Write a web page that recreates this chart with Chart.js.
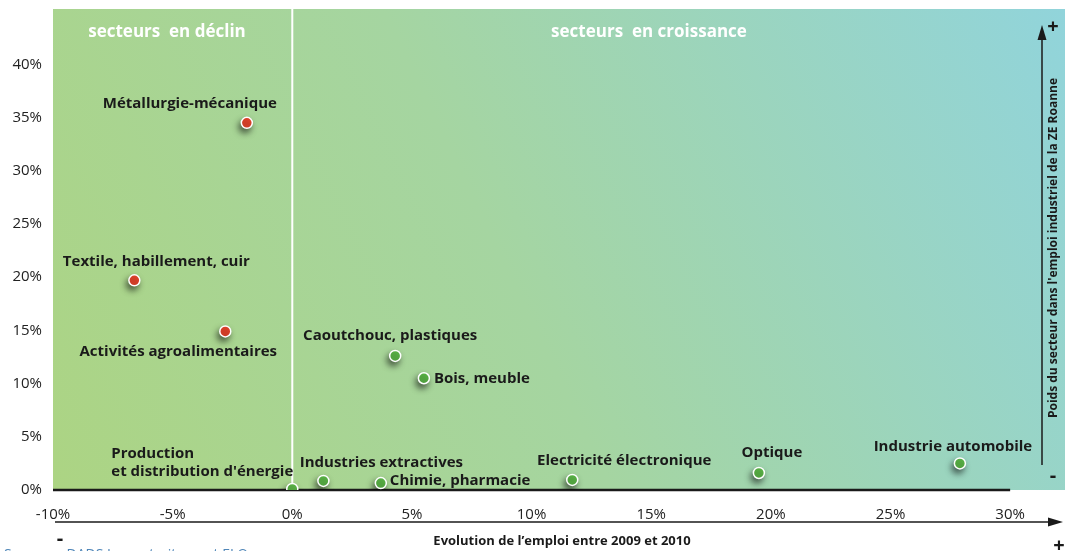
<!DOCTYPE html>
<html>
<head>
<meta charset="utf-8">
<script src="https://cdn.jsdelivr.net/npm/chart.js@4"></script>
<style>
  html, body { margin: 0; padding: 0; background: #fff; }
  #wrap { width: 1065px; height: 551px; }
</style>
</head>
<body>
<div id="wrap"><canvas id="chart" width="1065" height="551"></canvas></div>
<script>
// data
const sectors = [
  "Métallurgie-mécanique",
  "Textile, habillement, cuir",
  "Activités agroalimentaires",
  "Caoutchouc, plastiques",
  "Bois, meuble",
  "Production\net distribution d'énergie",
  "Industries extractives",
  "Chimie, pharmacie",
  "Electricité électronique",
  "Optique",
  "Industrie automobile"
];
const evolution = [-1.9, -6.6, -2.8, 4.3, 5.5, 0, 1.3, 3.7, 11.7, 19.5, 27.9]; // % 2009-2010
const weight = [34.5, 19.7, 14.9, 12.6, 10.5, 0.1, 0.85, 0.65, 0.95, 1.6, 2.5];  // % emploi industriel
const xTicks = [-10, -5, 0, 5, 10, 15, 20, 25, 30];
const yTicks = [0, 5, 10, 15, 20, 25, 30, 35, 40];

// where each label sits relative to its point
const labelPos = {
  "Métallurgie-mécanique": { dx: -57, dy: -19, align: "center" },
  "Textile, habillement, cuir": { dx: 22, dy: -19, align: "center" },
  "Activités agroalimentaires": { dx: -47, dy: 20, align: "center" },
  "Caoutchouc, plastiques": { dx: -5, dy: -20, align: "center" },
  "Bois, meuble": { dx: 10, dy: 0, align: "left" },
  "Production\net distribution d'énergie": { dx: -181, dy: -35, align: "left" },
  "Industries extractives": { dx: 58, dy: -18, align: "center" },
  "Chimie, pharmacie": { dx: 9, dy: -2, align: "left" },
  "Electricité électronique": { dx: 52, dy: -19, align: "center" },
  "Optique": { dx: 13, dy: -20, align: "center" },
  "Industrie automobile": { dx: -7, dy: -17, align: "center" }
};

const RED = "#e8452c";
const GREEN = "#5cb848";
const FONT = "'Open Sans', 'Noto Sans', sans-serif";

const points = sectors.map((s, i) => ({ x: evolution[i], y: weight[i] }));

function arrowHead(ctx, x, y, dir) {
  ctx.beginPath();
  if (dir === "up") {
    ctx.moveTo(x, y);
    ctx.lineTo(x - 4.5, y + 15);
    ctx.lineTo(x + 4.5, y + 15);
  } else {
    ctx.moveTo(x, y);
    ctx.lineTo(x - 15, y - 4.5);
    ctx.lineTo(x - 15, y + 4.5);
  }
  ctx.closePath();
  ctx.fill();
}

const decor = {
  id: "decor",
  beforeDatasetsDraw(chart) {
    const { ctx, chartArea: a, scales: { x, y } } = chart;
    ctx.save();
    // background gradient
    const g = ctx.createLinearGradient(a.left, a.bottom, chart.width, a.top);
    g.addColorStop(0, "#acd483");
    g.addColorStop(0.45, "#a5d5a1");
    g.addColorStop(1, "#91d4db");
    ctx.fillStyle = g;
    ctx.fillRect(a.left, a.top, chart.width - a.left, a.bottom - a.top);

    // white divider at 0%
    const x0 = x.getPixelForValue(0);
    ctx.strokeStyle = "#ffffff";
    ctx.lineWidth = 2;
    ctx.beginPath();
    ctx.moveTo(x0, a.top);
    ctx.lineTo(x0, a.bottom);
    ctx.stroke();

    // black base line
    ctx.strokeStyle = "#1a1a1a";
    ctx.lineWidth = 2.5;
    ctx.beginPath();
    ctx.moveTo(a.left, y.getPixelForValue(0));
    ctx.lineTo(x.getPixelForValue(30), y.getPixelForValue(0));
    ctx.stroke();

    // zone titles
    ctx.fillStyle = "#ffffff";
    ctx.font = "bold 17px " + FONT;
    ctx.textAlign = "center";
    ctx.textBaseline = "middle";
    ctx.fillText("secteurs  en déclin", 167, 32);
    ctx.fillText("secteurs  en croissance", 649, 32);

    // right vertical arrow
    ctx.strokeStyle = "#1a1a1a";
    ctx.fillStyle = "#1a1a1a";
    ctx.lineWidth = 1.5;
    ctx.beginPath();
    ctx.moveTo(1042, 465);
    ctx.lineTo(1042, 36);
    ctx.stroke();
    arrowHead(ctx, 1042, 25, "up");
    ctx.font = "bold 20px " + FONT;
    ctx.fillText("+", 1053, 27);
    ctx.fillText("-", 1053, 476);

    ctx.save();
    ctx.translate(1054, 248);
    ctx.rotate(-Math.PI / 2);
    ctx.font = "bold 12px " + FONT;
    ctx.fillText("Poids du secteur dans l'emploi industriel de la ZE Roanne", 0, 0);
    ctx.restore();

    // shadows for the points
    ctx.restore();
    ctx.save();
    ctx.shadowColor = "rgba(0,0,0,0.55)";
    ctx.shadowBlur = 6;
    ctx.shadowOffsetX = -2;
    ctx.shadowOffsetY = 4;
  },
  afterDatasetsDraw(chart) {
    const { ctx } = chart;
    ctx.restore();
    const meta = chart.getDatasetMeta(0);
    ctx.save();
    ctx.fillStyle = "#1a1a1a";
    ctx.font = "bold 15px " + FONT;
    ctx.textBaseline = "middle";
    meta.data.forEach((pt, i) => {
      const p = labelPos[sectors[i]];
      ctx.textAlign = p.align;
      sectors[i].split("\n").forEach((line, k) => {
        ctx.fillText(line, pt.x + p.dx, pt.y + p.dy + k * 18);
      });
    });
    ctx.restore();
  },
  afterDraw(chart) {
    const { ctx } = chart;
    ctx.save();
    ctx.strokeStyle = "#1a1a1a";
    ctx.fillStyle = "#1a1a1a";
    ctx.lineWidth = 1.5;
    ctx.beginPath();
    ctx.moveTo(55, 522);
    ctx.lineTo(1050, 522);
    ctx.stroke();
    arrowHead(ctx, 1063, 522, "right");
    ctx.textAlign = "center";
    ctx.textBaseline = "middle";
    ctx.font = "bold 20px " + FONT;
    ctx.fillText("+", 1059, 546);
    ctx.fillText("-", 60, 539);
    ctx.font = "bold 13px " + FONT;
    ctx.fillText("Evolution de l\u2019emploi entre 2009 et 2010", 562, 541);
    ctx.textAlign = "left";
    ctx.textBaseline = "alphabetic";
    ctx.fillStyle = "#4f86b8";
    ctx.font = "14px " + FONT;
    ctx.fillText("Sources : DADS Insee, traitement ELO", 4, 559);
    ctx.restore();
  }
};

function noPad(s) {
  s.paddingTop = 0;
  s.paddingBottom = 0;
  s.paddingLeft = 0;
  s.paddingRight = 0;
}

new Chart(document.getElementById("chart"), {
  type: "scatter",
  data: {
    datasets: [{
      label: "Secteurs",
      data: points,
      pointRadius: 5.5,
      pointHoverRadius: 5.5,
      pointBorderWidth: 1.5,
      pointBorderColor: "#ffffff",
      pointBackgroundColor: evolution.map(v => (v < 0 ? RED : GREEN))
    }]
  },
  options: {
    responsive: false,
    animation: false,
    events: [],
    layout: { padding: { top: 9, right: 0, left: 0, bottom: 0 } },
    plugins: {
      legend: { display: false },
      tooltip: { enabled: false }
    },
    scales: {
      x: {
        type: "linear",
        min: -10,
        max: 32.0,
        grid: { display: false, drawTicks: false },
        border: { display: false },
        afterBuildTicks: s => { s.ticks = xTicks.map(v => ({ value: v })); },
        afterFit: s => { s.height = 61; noPad(s); },
        ticks: {
          padding: 16,
          color: "#222",
          font: { family: FONT, size: 15 },
          callback: v => v + "%"
        }
      },
      y: {
        type: "linear",
        min: 0,
        max: 45.2,
        grid: { display: false, drawTicks: false },
        border: { display: false },
        afterBuildTicks: s => { s.ticks = yTicks.map(v => ({ value: v })); },
        afterFit: s => { s.width = 53; noPad(s); },
        ticks: {
          padding: 11,
          color: "#222",
          font: { family: FONT, size: 15 },
          callback: v => v + "%"
        }
      }
    }
  },
  plugins: [decor]
});
</script>
</body>
</html>
